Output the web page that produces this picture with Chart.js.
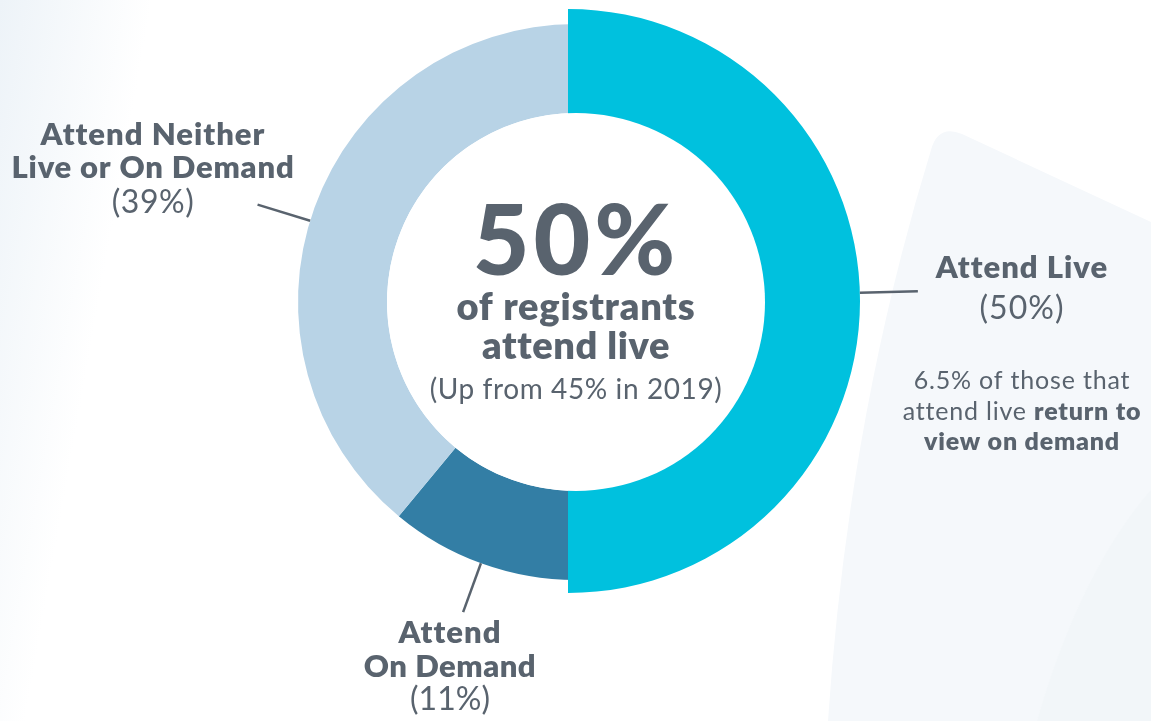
<!DOCTYPE html>
<html>
<head>
<meta charset="utf-8">
<script src="https://cdn.jsdelivr.net/npm/chart.js@4.4.1/dist/chart.umd.min.js"></script>
<style>
    html, body { margin: 0; padding: 0; background: #fff; }
    #wrap {
        position: relative; width: 1151px; height: 721px; overflow: hidden;
        background: linear-gradient(100deg, #edf3f8 0px, #ffffff 150px);
    }
    #wrap svg, #wrap canvas { position: absolute; left: 0; top: 0; }
</style>
</head>
<body>
<div id="wrap">
    <svg width="1151" height="721">
        <path d="M1151 222 L962 134 Q938 124 931 150 Q848 420 828 721 L1151 721 Z" fill="#f5f8fb"/>
        <path d="M1151 490 Q1080 572 1037 721 L1151 721 Z" fill="#f2f6f9"/>
    </svg>
    <canvas id="ringChart" width="1151" height="721"></canvas>
    <canvas id="liveChart" width="1151" height="721"></canvas>
</div>
<script>
// datos
const categories = ["Attend Live", "Attend On Demand", "Attend Neither Live or On Demand"]
const shares = [50, 11, 39]
const sliceColors = ["#00c1de", "#337ea5", "#b8d3e6"]
const lastYearLive = 45
const lastYear = 2019
const returnShare = 6.5

const textColor = "#59636e"
const fontFamily = "Lato, 'Open Sans', sans-serif"

// lineas guia: angulo (grados, desde arriba) y largo
const leaders = [
    { angle: 88.4, length: 58 },
    { angle: 200, length: 52 },
    { angle: 287, length: 55 }
]

// dibuja lineas guia de las rebanadas visibles
const leaderLines = {
    id: "leaderLines",
    afterDatasetsDraw(chart, args, opts) {
        const ctx = chart.ctx
        const arcs = chart.getDatasetMeta(0).data
        ctx.save()
        ctx.strokeStyle = textColor
        ctx.lineWidth = 2.5
        opts.slices.forEach(i => {
            const arc = arcs[i]
            const a = (leaders[i].angle - 90) * Math.PI / 180
            const r0 = arc.outerRadius
            const r1 = r0 + leaders[i].length
            ctx.beginPath()
            ctx.moveTo(arc.x + r0 * Math.cos(a), arc.y + r0 * Math.sin(a))
            ctx.lineTo(arc.x + r1 * Math.cos(a), arc.y + r1 * Math.sin(a))
            ctx.stroke()
        })
        ctx.restore()
    }
}

// el hueco blanco sigue el anillo de atras
const innerHole = {
    id: "innerHole",
    afterDatasetsDraw(chart) {
        const arc = ringChart.getDatasetMeta(0).data[1]
        const ctx = chart.ctx
        ctx.save()
        ctx.fillStyle = "#ffffff"
        ctx.beginPath()
        ctx.arc(arc.x, arc.y, arc.innerRadius, 0, Math.PI * 2)
        ctx.fill()
        ctx.restore()
    }
}

// textos
function line(ctx, parts, cx, y, spacing) {
    ctx.letterSpacing = (spacing || 0) + "px"
    let total = 0
    parts.forEach(p => { ctx.font = p.font; total += ctx.measureText(p.text).width })
    let x = cx - total / 2
    parts.forEach(p => {
        ctx.font = p.font
        ctx.fillText(p.text, x, y)
        x += ctx.measureText(p.text).width
    })
}

const labelText = {
    id: "labelText",
    afterDraw(chart) {
        const ctx = chart.ctx
        const bold = "800 31px " + fontFamily
        const reg = "32px " + fontFamily
        ctx.save()
        ctx.fillStyle = textColor
        ctx.textBaseline = "alphabetic"

        // Attend Neither
        line(ctx, [{ text: "Attend Neither", font: bold }], 153, 145, 1)
        line(ctx, [{ text: "Live or On Demand", font: bold }], 153, 178, 0.8)
        line(ctx, [{ text: "(" + shares[2] + "%)", font: reg }], 153, 213, 0.5)

        // Attend Live
        line(ctx, [{ text: categories[0], font: bold }], 1022, 278, 1)
        line(ctx, [{ text: "(" + shares[0] + "%)", font: reg }], 1022, 319, 1)
        const small = "25px " + fontFamily
        const smallBold = "800 25px " + fontFamily
        line(ctx, [{ text: returnShare + "% of those that", font: small }], 1022, 389, 0.8)
        line(ctx, [{ text: "attend live ", font: small }, { text: "return to", font: smallBold }], 1022, 420, 0.8)
        line(ctx, [{ text: "view on demand", font: smallBold }], 1022, 450, 0.8)

        // Attend On Demand
        line(ctx, [{ text: "Attend", font: bold }], 450, 643, 1)
        line(ctx, [{ text: "On Demand", font: bold }], 450, 677, 0.5)
        line(ctx, [{ text: "(" + shares[1] + "%)", font: reg }], 450, 710, 0)

        // centro
        line(ctx, [{ text: shares[0] + "%", font: "900 98px " + fontFamily }], 576, 275, 4)
        line(ctx, [{ text: "of registrants", font: "800 38px " + fontFamily }], 576, 320, 0.8)
        line(ctx, [{ text: "attend live", font: "800 38px " + fontFamily }], 576, 359, 0.6)
        line(ctx, [{ text: "(Up from " + lastYearLive + "% in " + lastYear + ")", font: "28px " + fontFamily }], 576, 399, 0.6)
        ctx.restore()
    }
}

function ringConfig(visible, cutout, padding, plugins, slices) {
    return {
        type: "doughnut",
        data: {
            labels: categories,
            datasets: [{
                data: shares,
                backgroundColor: sliceColors.map((c, i) => visible.includes(i) ? c : "rgba(0,0,0,0)"),
                borderWidth: 0,
                hoverBorderWidth: 0,
                hoverOffset: 0
            }]
        },
        options: {
            responsive: false,
            animation: false,
            events: [],
            cutout: cutout,
            layout: { padding: padding },
            plugins: {
                legend: { display: false },
                tooltip: { enabled: false },
                leaderLines: { slices: slices }
            }
        },
        plugins: plugins
    }
}

// anillo de atras (on demand / neither)
const ringChart = new Chart(document.getElementById("ringChart"), ringConfig(
    [1, 2], (189 / 278 * 100) + "%",
    { left: 298, top: 24, right: 297, bottom: 141 },
    [leaderLines], [1, 2]
))

// mitad live, mas grande, encima
new Chart(document.getElementById("liveChart"), ringConfig(
    [0], "60%",
    { left: 276, top: 9, right: 291, bottom: 128 },
    [innerHole, leaderLines, labelText], [0]
))
</script>
</body>
</html>
